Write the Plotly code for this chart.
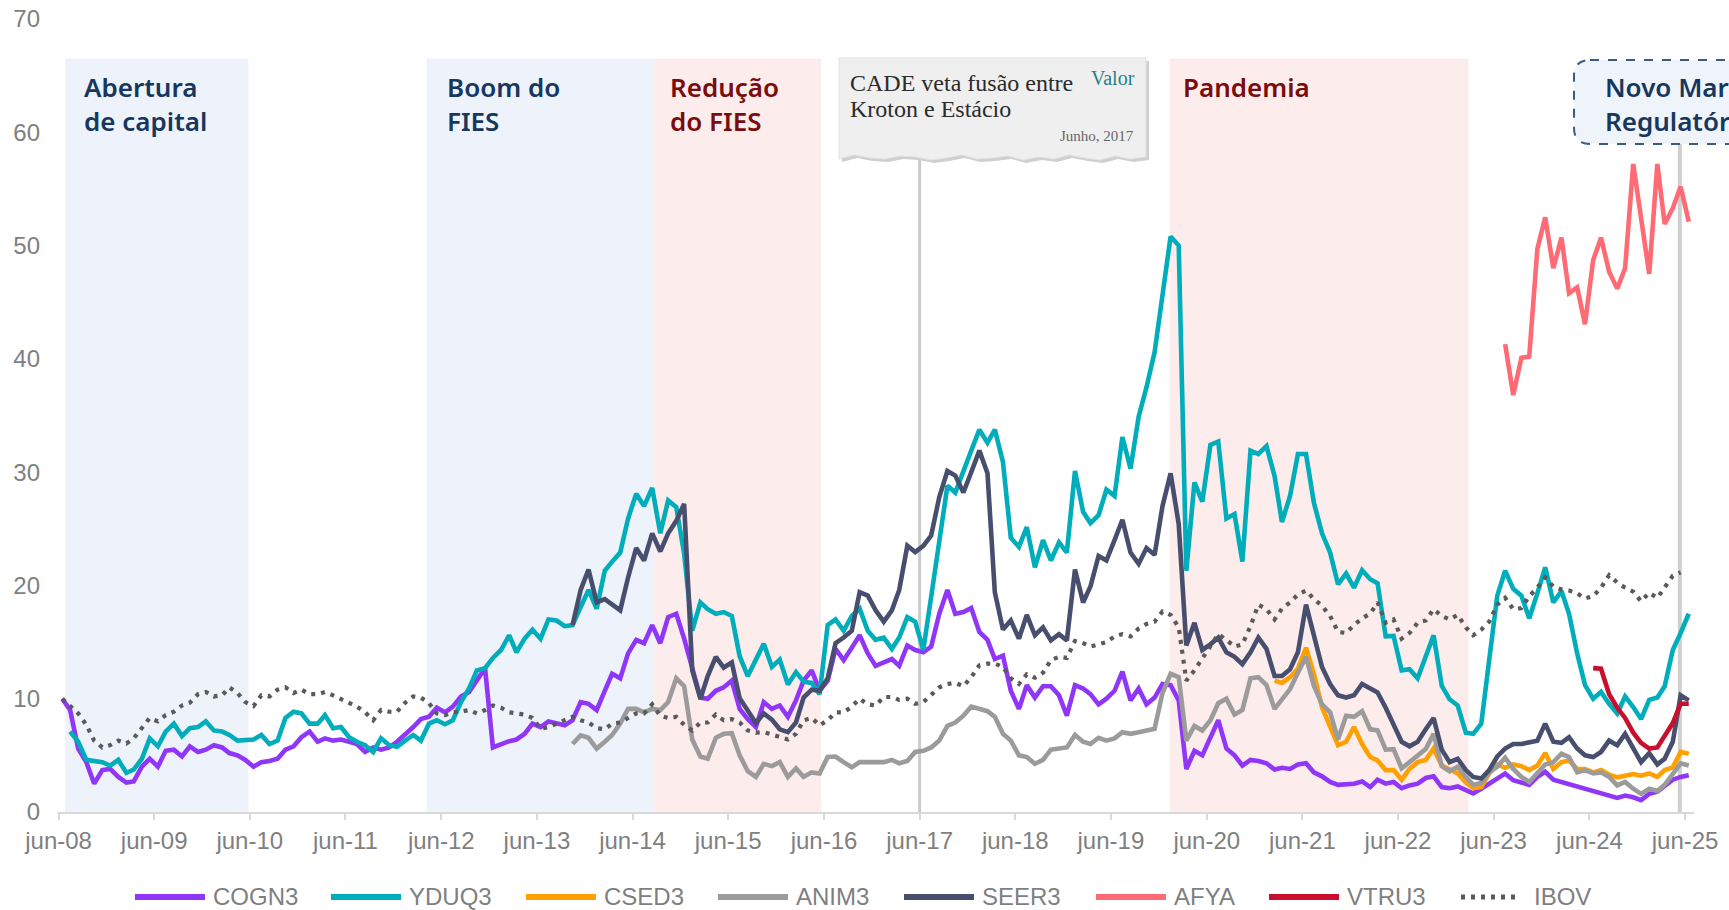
import pandas as pd
import plotly.graph_objects as go

# ---------------- data (monthly values) ----------------
COGN3_START = "2008-06-01"
COGN3 = [10.0, 9.0, 5.6, 4.4, 2.5, 3.7, 3.8, 3.1, 2.6, 2.7,
         4.0, 4.7, 4.0, 5.4, 5.5, 4.9, 5.8, 5.3, 5.5, 5.9,
         5.7, 5.2, 5.0, 4.6, 4.0, 4.4, 4.5, 4.7, 5.5, 5.8,
         6.6, 7.1, 6.2, 6.5, 6.3, 6.4, 6.2, 6.0, 5.3, 5.7,
         5.5, 5.7, 6.2, 6.8, 7.5, 8.2, 8.4, 9.2, 8.8, 9.3,
         10.2, 10.6, 11.7, 12.7, 5.7, 6.0, 6.25, 6.4, 6.9, 7.8,
         7.5, 8.0, 7.8, 7.65, 8.1, 9.7, 9.55, 9.0, 10.7, 12.2,
         11.8, 14.0, 15.2, 14.9, 16.5, 14.9, 17.2, 17.5, 15.3, 12.5,
         10.1, 10.0, 10.7, 11.0, 11.6, 9.1, 8.2, 7.5, 9.7, 9.1,
         9.4, 8.4, 9.85, 11.6, 12.5, 10.7, 11.6, 14.4, 13.4, 14.5,
         15.6, 14.0, 12.9, 13.2, 13.5, 12.9, 14.7, 14.3, 14.1, 14.6,
         17.5, 19.6, 17.5, 17.65, 18.0, 15.9, 15.2, 13.5, 13.8, 10.7,
         9.1, 11.2, 10.1, 11.1, 11.1, 10.3, 8.5, 11.2, 10.9, 10.4,
         9.5, 10.0, 10.7, 12.4, 9.85, 10.9, 9.5, 10.1, 11.3, 11.2,
         9.85, 3.8, 5.4, 5.0, 6.6, 8.1, 5.6, 5.0, 4.1, 4.6,
         4.5, 4.3, 3.75, 3.9, 3.8, 4.2, 4.3, 3.5, 3.15, 2.65,
         2.4, 2.45, 2.5, 2.7, 2.2, 2.85, 2.5, 2.65, 2.1, 2.35,
         2.5, 3.0, 3.15, 2.2, 2.1, 2.25, 1.9, 1.65, 2.05, 2.5,
         2.95, 3.4, 2.8, 2.55, 2.4, 3.1, 3.55, 2.85, None, None,
         None, None, None, None, None, 1.25, 1.45, 1.3, 1.05, 1.6,
         1.8, 2.35, 2.85, 3.1, 3.25]

YDUQ3_START = "2008-07-01"
YDUQ3 = [7.1, 6.2, 4.6, 4.5, 4.4, 4.1, 4.6, 3.45, 3.75,
         4.7, 6.5, 5.8, 7.1, 7.8, 6.7, 7.4, 7.5, 8.0, 7.2,
         7.1, 6.8, 6.3, 6.3, 6.4, 6.8, 6.0, 6.3, 8.3, 8.85,
         8.7, 7.8, 7.8, 8.55, 7.4, 7.5, 6.6, 6.2, 5.9, 5.3,
         6.5, 5.9, 5.75, 6.3, 6.8, 6.3, 7.8, 8.1, 7.75, 8.1,
         9.7, 10.9, 12.5, 12.7, 13.6, 14.3, 15.6, 14.1, 15.3, 16.1,
         15.3, 17.0, 16.9, 16.4, 16.5, 18.1, 19.6, 17.95, 21.3, 22.1,
         22.9, 25.9, 28.1, 27.0, 28.6, 24.6, 27.5, 26.9, 22.8, 16.0,
         18.5, 17.9, 17.5, 17.65, 17.3, 13.75, 12.0, 13.45, 14.85, 12.8,
         13.45, 11.25, 12.35, 11.5, 11.4, 10.4, 16.5, 17.0, 16.0, 17.3,
         17.95, 16.0, 15.2, 15.4, 14.4, 15.4, 17.2, 16.8, 14.3, 19.0,
         24.0, 28.8, 28.2, 30.2, 31.9, 33.75, 32.6, 33.75, 30.9, 24.2,
         23.4, 25.15, 21.6, 24.0, 22.2, 23.8, 22.9, 30.1, 26.5, 25.5,
         26.2, 28.45, 27.9, 33.1, 30.3, 34.9, 37.5, 40.6, 45.5, 50.8,
         50.0, 21.3, 29.1, 27.4, 32.4, 32.7, 25.9, 26.3, 22.1, 31.9,
         31.6, 32.3, 29.65, 25.6, 27.9, 31.6, 31.6, 27.3, 24.6, 22.9,
         20.1, 21.05, 19.8, 21.35, 20.55, 20.2, 15.5, 15.55, 12.5, 12.6,
         11.8, 13.7, 15.6, 11.15, 9.95, 9.4, 7.0, 6.9, 7.8, 13.4,
         19.1, 21.3, 19.7, 19.1, 17.1, 19.3, 21.6, 18.5, 19.5, 17.5,
         14.0, 11.2, 10.0, 10.6, 9.55, 8.7, 10.2, 9.26, 8.2, 9.9,
         10.1, 11.1, 14.3, 15.8, 17.5]

CSED3_START = "2021-02-01"
CSED3 = [11.6, 11.4, 11.9, 12.65, 14.5, 12.2, 9.25, 7.5, 5.9, 6.2,
         7.5, 6.0, 4.85, 4.55, 3.7, 3.7, 2.85, 3.8, 4.4, 4.6,
         5.6, 4.1, 3.8, 3.4, 2.6, 2.1, 2.2, 3.4, 4.2, 3.9,
         4.2, 4.05, 3.7, 4.1, 5.2, 3.8, 4.4, 4.55, 3.8, 3.8,
         3.5, 3.7, 3.3, 3.06, 3.2, 3.35, 3.2, 3.4, 3.1, 3.7,
         3.94, 5.3, 5.15]

ANIM3_START = "2013-10-01"
ANIM3 = [6.0, 6.76, 6.55, 5.6, 6.2, 6.8,
         7.8, 9.1, 9.1, 8.8, 9.1, 9.0, 9.7, 11.8, 11.1, 6.4,
         4.9, 4.7, 6.55, 6.9, 6.95, 5.0, 3.6, 3.1, 4.25, 4.05,
         4.4, 3.1, 3.85, 3.1, 3.5, 3.4, 4.85, 4.9, 4.4, 3.95,
         4.4, 4.4, 4.5, 4.4, 4.6, 4.3, 4.5, 5.3, 5.4, 5.7,
         6.3, 7.6, 7.9, 8.5, 9.3, 9.1, 8.9, 8.4, 6.9, 6.3,
         5.0, 4.85, 4.25, 4.6, 5.5, 5.6, 5.7, 6.8, 6.2, 6.0,
         6.55, 6.3, 6.5, 7.05, 6.9, 7.05, 7.2, 7.35, 10.5, 12.2,
         11.9, 6.3, 7.6, 7.2, 8.1, 9.6, 10.0, 8.6, 9.0, 11.8,
         11.9, 11.2, 9.1, 10.0, 10.85, 12.3, 13.7, 11.15, 9.5, 8.8,
         6.4, 8.5, 8.4, 8.9, 7.3, 7.2, 5.5, 5.55, 3.85, 4.4,
         5.0, 5.55, 6.9, 4.05, 3.6, 4.0, 3.1, 2.4, 2.55, 3.5,
         4.0, 4.8, 3.8, 3.1, 2.65, 3.44, 4.2, 4.4, 5.14, 4.85,
         3.5, 3.7, 3.4, 3.5, 3.1, 2.35, 2.65, 2.06, 1.6, 2.06,
         1.85, 2.4, 3.4, 4.3, 4.1]

SEER3_START = "2013-10-01"
SEER3 = [16.5, 19.6, 21.4, 18.5, 18.8, 18.3,
         17.8, 20.7, 23.3, 22.2, 24.6, 23.0, 24.6, 25.7, 27.2, 12.5,
         10.0, 12.0, 13.7, 12.75, 13.2, 10.05, 8.9, 7.85, 8.7, 8.15,
         7.3, 7.05, 7.9, 10.1, 10.8, 10.7, 11.8, 14.9, 15.4, 16.0,
         19.4, 19.1, 17.8, 16.8, 17.8, 19.6, 23.5, 22.95, 23.5, 24.4,
         27.8, 30.1, 29.7, 28.2, 30.0, 31.9, 29.9, 19.4, 16.1, 16.9,
         15.3, 17.4, 15.6, 16.3, 15.15, 15.7, 15.15, 21.4, 18.5, 19.9,
         22.6, 22.2, 24.0, 25.8, 22.9, 21.9, 23.3, 22.7, 27.0, 29.9,
         25.4, 14.7, 16.7, 14.3, 14.8, 15.4, 14.1, 13.7, 13.05, 14.1,
         15.4, 14.4, 12.0, 12.0, 12.6, 14.1, 18.3, 15.6, 12.8, 11.3,
         10.3, 10.1, 10.3, 11.3, 10.9, 10.55, 9.2, 7.7, 6.2, 5.8,
         6.2, 7.3, 8.3, 5.5, 4.4, 4.7, 3.7, 3.1, 2.95, 3.7,
         4.9, 5.6, 6.0, 6.0, 6.1, 6.3, 7.8, 6.2, 6.1, 6.6,
         5.6, 5.0, 4.85, 5.3, 6.3, 5.9, 6.9, 5.7, 4.4, 5.2,
         4.2, 4.7, 6.2, 10.3, 9.85]

AFYA_START = "2023-07-01"
AFYA = [41.3, 36.8, 40.1, 40.2, 49.7, 52.5, 48.0, 50.7, 45.8, 46.3,
        43.05, 48.7, 50.7, 47.7, 46.2, 48.0, 57.2, 52.3, 47.5, 57.2,
        51.9, 53.3, 55.2, 52.1]

VTRU3_START = "2024-06-01"
VTRU3 = [12.7, 12.65, 10.4, 9.2, 8.3, 7.0, 6.1, 5.6, 5.7, 6.8,
         7.85, 9.56, 9.56]

IBOV_START = "2008-06-01"
IBOV = [10.0, 9.3, 8.7, 7.7, 6.3, 5.7, 5.9, 6.3, 6.05, 6.5,
        7.4, 8.3, 8.0, 8.55, 8.85, 9.4, 9.65, 10.4, 10.6, 10.2,
        10.3, 11.0, 10.5, 9.7, 9.35, 10.3, 10.2, 10.8, 11.0, 10.5,
        10.8, 10.4, 10.4, 10.6, 10.3, 10.0, 9.7, 9.3, 8.8, 8.1,
        9.0, 8.85, 8.85, 9.65, 10.2, 10.1, 9.6, 8.7, 8.55, 8.8,
        8.85, 9.0, 8.7, 9.0, 9.4, 9.2, 8.8, 8.7, 8.6, 8.3,
        7.35, 7.5, 7.8, 8.1, 8.4, 8.1, 7.9, 7.4, 7.3, 7.8,
        7.9, 8.3, 8.7, 8.7, 9.5, 8.5, 8.3, 8.4, 7.7, 7.2,
        7.9, 7.9, 8.6, 8.1, 8.2, 7.9, 7.2, 7.0, 7.05, 6.85,
        6.6, 6.4, 6.9, 8.1, 8.3, 7.65, 8.1, 8.8, 8.8, 9.3,
        10.0, 9.5, 9.4, 10.15, 10.15, 9.9, 10.0, 9.55, 9.7, 10.3,
        11.0, 11.3, 11.4, 11.1, 11.9, 12.95, 13.1, 13.1, 12.8, 11.8,
        11.3, 12.15, 11.85, 12.3, 13.4, 13.7, 13.6, 15.1, 14.9, 14.6,
        14.8, 15.0, 15.5, 15.7, 15.5, 16.2, 16.6, 16.8, 17.7, 17.4,
        16.3, 11.6, 12.5, 13.6, 14.6, 15.7, 15.2, 14.6, 14.8, 16.4,
        18.3, 17.9, 17.0, 17.95, 18.5, 19.2, 19.55, 18.8, 18.2, 17.3,
        15.9, 15.8, 16.5, 17.1, 17.5, 18.5, 16.7, 17.0, 15.3, 15.8,
        16.7, 16.9, 17.9, 17.3, 17.0, 17.4, 16.3, 15.6, 16.1, 16.8,
        18.3, 18.9, 17.9, 18.0, 19.05, 19.8, 20.7, 19.9, 19.65, 19.55,
        19.3, 18.85, 19.05, 19.8, 20.9, 20.25, 19.8, 19.45, 18.6, 19.35,
        18.9, 19.8, 20.85, 21.15]

TICK_DATES = ["2008-06-01", "2009-06-01", "2010-06-01", "2011-06-01", "2012-06-01",
              "2013-06-01", "2014-06-01", "2015-06-01", "2016-06-01", "2017-06-01",
              "2018-06-01", "2019-06-01", "2020-06-01", "2021-06-01", "2022-06-01",
              "2023-06-01", "2024-06-01", "2025-06-01"]
TICK_TEXT = ["jun-08", "jun-09", "jun-10", "jun-11", "jun-12", "jun-13", "jun-14",
             "jun-15", "jun-16", "jun-17", "jun-18", "jun-19", "jun-20", "jun-21",
             "jun-22", "jun-23", "jun-24", "jun-25"]
Y_TICKS = [0, 10, 20, 30, 40, 50, 60, 70]

PERIOD_NAMES = ["Abertura<br>de capital", "Boom do<br>FIES", "Redução<br>do FIES", "Pandemia"]
PERIOD_START = ["2008-06-26", "2012-04-06", "2014-08-24", "2020-01-13"]
PERIOD_END = ["2010-05-27", "2014-08-24", "2016-05-21", "2023-02-25"]
EVENT_DATES = ["2017-06-01", "2025-05-12"]

# ---------------- styling ----------------
SERIES = [
    ("COGN3", COGN3_START, COGN3, "#9036f8", "solid"),
    ("YDUQ3", YDUQ3_START, YDUQ3, "#00adbb", "solid"),
    ("CSED3", CSED3_START, CSED3, "#ffa000", "solid"),
    ("ANIM3", ANIM3_START, ANIM3, "#9b9b9b", "solid"),
    ("SEER3", SEER3_START, SEER3, "#474e6e", "solid"),
    ("AFYA", AFYA_START, AFYA, "#ff6b74", "solid"),
    ("VTRU3", VTRU3_START, VTRU3, "#c8102e", "solid"),
    ("IBOV", IBOV_START, IBOV, "#5a5a5a", "4px,6px"),
]
PERIOD_FILL = ["#eef3fb", "#eef3fb", "#fdecec", "#fdecec"]
PERIOD_TEXT = ["#17375e", "#17375e", "#7a0c0c", "#7a0c0c"]
PERIOD_TEXT_X = [82, 445, 668, 1181]

W, H = 1729, 910
ML, MR, MT, MB = 57, 35, 19, 98
PW, PH = W - ML - MR, H - MT - MB
X_RANGE = ["2008-05-26", "2025-07-05"]
POINT_OFFSET = pd.Timedelta(days=14)   # monthly points sit mid-month
AX_FONT = dict(family="Liberation Sans, Arial, sans-serif", size=24, color="#7f7f7f")
LABEL_FONT = "Noto Sans, Open Sans, sans-serif"
SERIF = "Liberation Serif, DejaVu Serif, serif"
LABEL_TOP = 67


def px(xp):
    return (xp - ML) / PW


def py(yp):
    return (H - MB - yp) / PH


fig = go.Figure()
for name, start, vals, color, dash in SERIES:
    xs = pd.date_range(start, periods=len(vals), freq="MS") + POINT_OFFSET
    fig.add_trace(go.Scatter(x=xs, y=vals, mode="lines", name=name, connectgaps=True,
                             line=dict(color=color, width=4.6 if dash == "solid" else 4.2,
                                       dash=dash),
                             showlegend=False))

shapes = []
annotations = []

# shaded periods
for s, e, c in zip(PERIOD_START, PERIOD_END, PERIOD_FILL):
    shapes.append(dict(type="rect", xref="x", yref="paper", x0=s, x1=e, y0=0, y1=py(58.5),
                       fillcolor=c, line=dict(width=0), layer="below"))
for label, xt, col in zip(PERIOD_NAMES, PERIOD_TEXT_X, PERIOD_TEXT):
    annotations.append(dict(text=label, x=px(xt), y=py(LABEL_TOP), xanchor="left",
                            yanchor="top", align="left",
                            font=dict(family=LABEL_FONT, size=26, color=col, weight=600)))

# event lines
shapes.append(dict(type="line", xref="x", yref="paper", x0=EVENT_DATES[0], x1=EVENT_DATES[0],
                   y0=0, y1=py(158), line=dict(color="#cbcbcb", width=3), layer="below"))
shapes.append(dict(type="line", xref="x", yref="paper", x0=EVENT_DATES[1], x1=EVENT_DATES[1],
                   y0=0, y1=py(144), line=dict(color="#cfcfcf", width=4), layer="below"))

# CADE newspaper clipping (torn bottom edge)
bx0, bx1, bt = 839, 1146, 58
jag = [0, 2, -1, 3, 1, -2, 2, 0, 3, -1, 1, 2, -2, 1, 3, 0, -1, 2, 1, -2, 2]
n = len(jag) - 1


def clip_path(dx, dy):
    pts = [(bx0 + dx, bt + dy), (bx1 + dx, bt + dy)]
    for k in range(n + 1):
        xx = bx1 - (bx1 - bx0) * k / n
        pts.append((xx + dx, 157 + jag[k] + dy))
    return "M" + " L".join(f"{px(a):.5f},{py(b):.5f}" for a, b in pts) + " Z"


shapes.append(dict(type="path", xref="paper", yref="paper", path=clip_path(3, 3),
                   fillcolor="#cfcfcf", line=dict(width=0), layer="above"))
shapes.append(dict(type="path", xref="paper", yref="paper", path=clip_path(0, 0),
                   fillcolor="#efefef", line=dict(color="#e2e2e2", width=1), layer="above"))
annotations += [
    dict(text="CADE veta fusão entre", x=px(848), y=py(83), xanchor="left", yanchor="middle",
         font=dict(family=SERIF, size=24, color="#2b2b2b")),
    dict(text="Kroton e Estácio", x=px(848), y=py(109), xanchor="left", yanchor="middle",
         font=dict(family=SERIF, size=24, color="#2b2b2b")),
    dict(text="Junho, 2017", x=px(1136), y=py(136), xanchor="right", yanchor="middle",
         font=dict(family=SERIF, size=15, color="#666666")),
    dict(text="Valor", x=px(1137), y=py(78), xanchor="right", yanchor="middle",
         font=dict(family=SERIF, size=20, color="#1f7f8c")),
]

# Novo Marco Regulatório box (rounded, dashed, runs off the right edge)
nx0, nx1, nt, nb, r = 1574, 1800, 60, 144, 16
npath = (f"M{px(nx0 + r)},{py(nt)} L{px(nx1)},{py(nt)} L{px(nx1)},{py(nb)} L{px(nx0 + r)},{py(nb)} "
         f"Q{px(nx0)},{py(nb)} {px(nx0)},{py(nb - r)} L{px(nx0)},{py(nt + r)} "
         f"Q{px(nx0)},{py(nt)} {px(nx0 + r)},{py(nt)} Z")
shapes.append(dict(type="path", xref="paper", yref="paper", path=npath, fillcolor="#eff4fa",
                   line=dict(color="#3b5b82", width=2, dash="dash"), layer="above"))
annotations.append(dict(text="Novo Marco<br>Regulatório", x=px(1603), y=py(LABEL_TOP),
                        xanchor="left", yanchor="top", align="left",
                        font=dict(family=LABEL_FONT, size=26, color="#17375e", weight=600)))

# manual legend
LEG_X = [135, 331, 526, 718, 904, 1096, 1269, 1461]
LEG_Y = 897
for (name, _, _, color, dash), lx in zip(SERIES, LEG_X):
    seg = 60 if name == "IBOV" else 70
    shapes.append(dict(type="line", xref="paper", yref="paper", x0=px(lx), x1=px(lx + seg),
                       y0=py(LEG_Y), y1=py(LEG_Y),
                       line=dict(color=color, width=6 if dash == "solid" else 5,
                                 dash=dash if dash != "solid" else None)))
    annotations.append(dict(text=name, x=px(lx + (71 if name == "IBOV" else 76)), y=py(LEG_Y),
                            xanchor="left", yanchor="middle", font=AX_FONT))

for a in annotations:
    a.setdefault("xref", "paper")
    a.setdefault("yref", "paper")
    a["showarrow"] = False

fig.update_layout(
    width=W, height=H, autosize=False,
    margin=dict(l=ML, r=MR, t=MT, b=MB, pad=0, autoexpand=False),
    paper_bgcolor="white", plot_bgcolor="white",
    showlegend=False, shapes=shapes, annotations=annotations,
    xaxis=dict(type="date", range=X_RANGE, tickvals=TICK_DATES, ticktext=TICK_TEXT,
               showgrid=False, zeroline=False, showline=True, linecolor="#d9d9d9", linewidth=2,
               ticks="outside", ticklen=6, tickwidth=2, tickcolor="#d9d9d9",
               tickfont=AX_FONT, ticklabelstandoff=0, automargin=False),
    yaxis=dict(range=[0, 70], tickvals=Y_TICKS, showgrid=False, zeroline=False,
               showline=False, tickfont=AX_FONT, ticklabelstandoff=16, automargin=False),
)

fig.write_html("out.html", include_plotlyjs=True, full_html=True,
               config={"displayModeBar": False},
               post_script="document.body.style.margin='0';document.body.style.overflow='hidden';")
